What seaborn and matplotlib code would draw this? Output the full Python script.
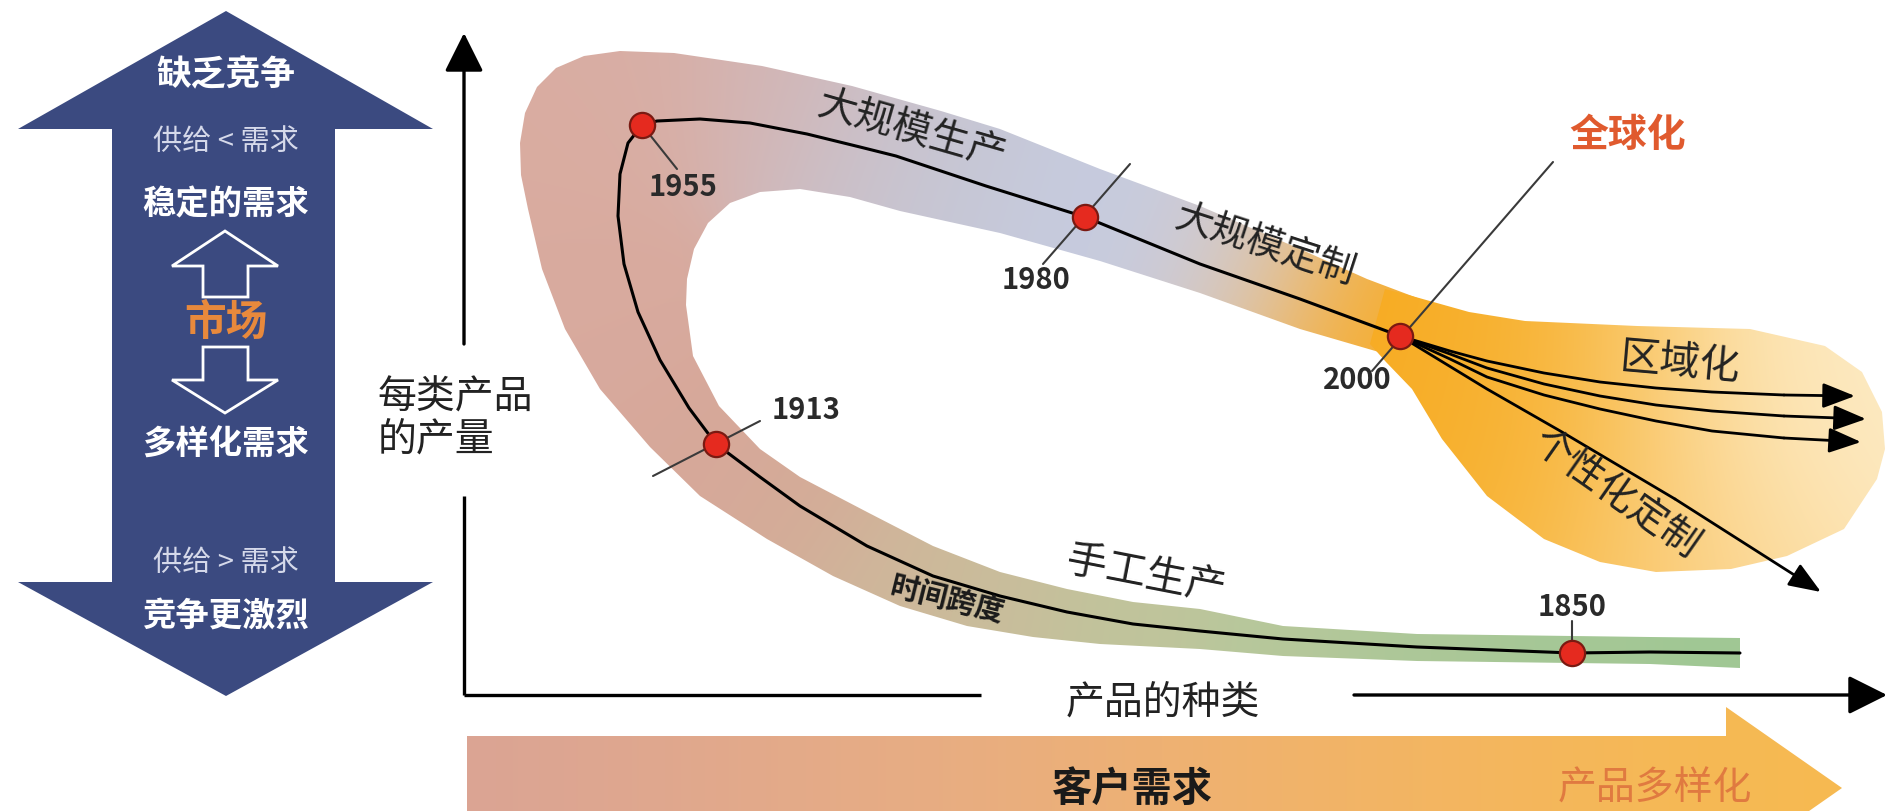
import numpy as np
import matplotlib
matplotlib.use("Agg")
import matplotlib.pyplot as plt
from matplotlib.patches import Polygon
import seaborn as sns

# ---- data: x = 产品的种类 (variety), y = 每类产品的产量 (volume per type) ----
# main trajectory, from 1850 (right, low) round the loop to 2000
path_x = [1276, 1186, 1108, 953, 819, 736, 669, 603, 536, 469, 403, 336, 296, 252,
          225, 196, 174, 160, 154, 156, 164, 178, 193, 236, 286, 343, 396, 432,
          522, 621, 736, 836, 936]
path_y = [42, 43, 42, 48, 56, 64, 71, 83, 99, 119, 149, 189, 218, 251,
          287, 335, 383, 431, 479, 521, 552, 570, 574, 576, 572, 561, 548, 539,
          509, 478, 431, 396, 359]

years = ["1850", "1913", "1955", "1980", "2000"]
year_x = [1108, 252, 178, 621, 936]
year_y = [42, 251, 570, 478, 359]

# branches after 2000
regional_x = [[936, 986, 1023, 1080, 1136, 1192, 1248, 1320, 1391],
              [936, 986, 1023, 1080, 1136, 1192, 1248, 1320, 1402],
              [936, 986, 1023, 1080, 1136, 1192, 1248, 1320, 1397]]
regional_y = [[359, 344, 334, 322, 313, 307, 303, 300, 299],
              [359, 341, 327, 311, 299, 290, 284, 279, 276],
              [359, 336, 318, 300, 286, 274, 264, 257, 253]]
personal_x = [936, 1023, 1098, 1211, 1357]
personal_y = [359, 306, 263, 196, 103]

# swoosh band outline: outer edge then inner edge
band_outer_x = [1276, 1186, 953, 819, 736, 636, 569, 503, 436, 369, 303, 236, 186, 136,
                101, 78, 64, 57, 56, 61, 73, 92, 120, 156, 210, 298, 388, 477, 536, 636,
                736, 836, 903, 956]
band_outer_y = [27, 31, 34, 39, 46, 51, 58, 69, 89, 119, 156, 199, 248, 306,
                366, 426, 486, 520, 552, 582, 608, 627, 639, 644, 642, 629, 609, 584, 566,
                526, 489, 446, 416, 396]
band_inner_x = [956, 836, 736, 636, 536, 436, 386, 336, 296, 266, 244, 230, 223, 222,
                229, 255, 296, 336, 403, 469, 536, 603, 669, 736, 819, 953, 1186, 1276]
band_inner_y = [331, 366, 402, 434, 462, 484, 498, 506, 503, 492, 472, 446, 416, 390,
                339, 289, 246, 218, 183, 149, 123, 106, 93, 86, 69, 61, 58, 57]

# the fan of options after globalisation
blob_x = [921, 948, 1005, 1061, 1173, 1286, 1361, 1398, 1418, 1421, 1413, 1380, 1323,
          1267, 1192, 1136, 1080, 1023, 978, 948, 922, 906]
blob_y = [406, 399, 383, 374, 369, 366, 349, 323, 283, 246, 216, 166, 139,
          126, 123, 133, 156, 199, 256, 306, 333, 351]

# colour anchors (style) for the gradients
band_anchor_xy = [(1276, 42), (1108, 42), (953, 48), (819, 56), (669, 76), (536, 101),
                  (436, 126), (336, 196), (252, 251), (146, 396), (126, 536), (186, 596),
                  (296, 586), (396, 546), (486, 516), (621, 478), (736, 441), (806, 411),
                  (876, 381), (936, 359)]
band_anchor_rgb = [(160, 200, 148), (165, 200, 150), (172, 200, 152), (182, 200, 155),
                   (192, 196, 156), (200, 190, 155), (207, 183, 155), (212, 172, 152),
                   (215, 168, 154), (216, 170, 158), (218, 172, 160), (216, 174, 165),
                   (210, 182, 182), (203, 192, 200), (198, 200, 215), (198, 203, 222),
                   (203, 204, 220), (225, 196, 165), (243, 178, 75), (247, 172, 35)]
blob_anchor_xy = [(936, 359), (986, 296), (1056, 216), (1056, 336), (1186, 316), (1186, 166),
                  (1316, 296), (1316, 176), (1406, 276), (1386, 336)]
blob_anchor_rgb = [(247, 170, 30), (247, 172, 35), (248, 180, 55), (248, 182, 60),
                   (250, 205, 120), (250, 200, 110), (252, 225, 170), (252, 222, 165),
                   (253, 238, 205), (253, 236, 200)]
demand_anchor_xy = [(0, -93), (400, -93), (800, -93), (1100, -93), (1300, -93)]
demand_anchor_rgb = [(217, 163, 150), (230, 172, 135), (240, 178, 112), (245, 182, 92),
                     (247, 188, 75)]


def gradient_fill(ax, px, py, anchor_xy, anchor_rgb, sigma, zorder, step=3):
    xs = np.arange(min(px) - 6, max(px) + 6, step, dtype=float)
    ys = np.arange(min(py) - 6, max(py) + 6, step, dtype=float)
    gx, gy = np.meshgrid(xs, ys)
    a = np.asarray(anchor_xy, float)
    d2 = (gx[..., None] - a[:, 0]) ** 2 + (gy[..., None] - a[:, 1]) ** 2
    logw = -d2 / (2 * sigma ** 2)
    logw -= logw.max(axis=-1, keepdims=True)
    w = np.exp(logw)
    w /= w.sum(axis=-1, keepdims=True)
    img = w @ (np.asarray(anchor_rgb, float) / 255.0)
    im = ax.imshow(img, extent=[xs[0], xs[-1], ys[0], ys[-1]], origin="lower",
                   interpolation="bilinear", aspect="auto", zorder=zorder)
    clip = Polygon(np.column_stack([px, py]), closed=True, fc="none", ec="none")
    ax.add_patch(clip)
    im.set_clip_path(clip)


sns.set_theme(style="white")
plt.rcParams["font.family"] = ["Noto Sans CJK SC", "DejaVu Sans"]

fig = plt.figure(figsize=(18.88, 8.12), dpi=100)
ax = fig.add_axes([0, 0, 1, 1])
ax.set_axis_off()

# left: market double arrow
navy = "#3b4a80"
ax.add_patch(Polygon([(-238, 684), (-31, 566), (-129, 566), (-129, 113), (-31, 113),
                      (-238, -1), (-446, 113), (-352, 113), (-352, 566), (-446, 566)],
                     closed=True, fc=navy, ec="none", zorder=2))
ax.add_patch(Polygon([(-239, 464), (-186, 429), (-216, 429), (-216, 398), (-261, 398),
                      (-261, 429), (-292, 429)], closed=True, fill=False, ec="white",
                     lw=2, zorder=3))
ax.add_patch(Polygon([(-239, 282), (-186, 315), (-216, 315), (-216, 348), (-261, 348),
                      (-261, 315), (-292, 315)], closed=True, fill=False, ec="white",
                     lw=2, zorder=3))
left_txt = [("缺乏竞争", 621, 25, "bold", "white"),
            ("供给 < 需求", 554, 21, "normal", "#d5d9ea"),
            ("稳定的需求", 491, 24, "bold", "white"),
            ("市场", 373, 30, "bold", "#e8893c"),
            ("多样化需求", 251, 24, "bold", "white"),
            ("供给 > 需求", 133, 21, "normal", "#d5d9ea"),
            ("竞争更激烈", 80, 24, "bold", "white")]
for s, y, fs, fw, c in left_txt:
    ax.text(-238, y, s, ha="center", va="center", fontsize=fs, fontweight=fw,
            color=c, zorder=4)

# bottom: customer demand arrow
demand = [(3, -41), (1262, -41), (1262, -12), (1378, -93), (1262, -174),
          (1262, -145), (3, -145)]
dx, dy = zip(*demand)
gradient_fill(ax, dx, dy, demand_anchor_xy, demand_anchor_rgb, 220, zorder=1, step=6)
ax.text(668, -93, "客户需求", ha="center", va="center", fontsize=29,
        fontweight="bold", color="#1a1a1a", zorder=4)
ax.text(1191, -93, "产品多样化", ha="center", va="center", fontsize=28,
        color="#e07a40", zorder=4)

# the swoosh and the fan
gradient_fill(ax, band_outer_x + band_inner_x, band_outer_y + band_inner_y,
              band_anchor_xy, band_anchor_rgb, 60, zorder=1)
gradient_fill(ax, blob_x, blob_y, blob_anchor_xy, blob_anchor_rgb, 90, zorder=1.5)

# axes with arrows
head = dict(arrowstyle="-|>,head_length=0.8,head_width=0.4", mutation_scale=30,
            color="black", lw=2.4, shrinkA=0, shrinkB=0)
ax.annotate("", xy=(0, 662), xytext=(0, 351), arrowprops=head, zorder=3)
ax.plot([0, 0], [0, 199], color="black", lw=2.4, solid_capstyle="butt", zorder=3)
ax.plot([0, 517], [0, 0], color="black", lw=2.4, solid_capstyle="butt", zorder=3)
ax.annotate("", xy=(1423, 0), xytext=(890, 0), arrowprops=head, zorder=3)
ax.text(-86, 298, "每类产品", ha="left", va="center", fontsize=28, color="#222222")
ax.text(-86, 256, "的产量", ha="left", va="center", fontsize=28, color="#222222")
ax.text(699, -7, "产品的种类", ha="center", va="center", fontsize=28, color="#222222")

# year tick lines and labels
tick_x0 = [1108, 189, 178, 579, 908]
tick_y0 = [51, 219, 570, 431, 324]
tick_x1 = [1108, 296, 213, 666, 1089]
tick_y1 = [74, 274, 526, 531, 533]
for i in range(len(years)):
    ax.plot([tick_x0[i], tick_x1[i]], [tick_y0[i], tick_y1[i]], color="#3a3a3a",
            lw=1.5, zorder=4)
lab_x = [1108, 342, 219, 572, 893]
lab_y = [89, 286, 509, 416, 316]
for s, x, y in zip(years, lab_x, lab_y):
    ax.text(x, y, s, ha="center", va="center", fontsize=21, fontweight="bold",
            color="#2a2a2a", zorder=6)

# trajectory, branches, milestones
sns.lineplot(x=path_x, y=path_y, sort=False, estimator=None, color="black",
             linewidth=2.2, ax=ax, zorder=5)
branch_head = dict(arrowstyle="-|>,head_length=0.9,head_width=0.35", mutation_scale=22,
                   color="black", lw=2.0, shrinkA=0, shrinkB=0)
for bx, by in zip(regional_x, regional_y):
    sns.lineplot(x=bx[:-1], y=by[:-1], sort=False, estimator=None, color="black",
                 linewidth=2.0, ax=ax, zorder=5)
    ax.annotate("", xy=(bx[-1], by[-1]), xytext=(bx[-2], by[-2]),
                arrowprops=branch_head, zorder=5)
sns.lineplot(x=personal_x[:-1], y=personal_y[:-1], sort=False, estimator=None,
             color="black", linewidth=2.0, ax=ax, zorder=5)
ax.annotate("", xy=(personal_x[-1], personal_y[-1]),
            xytext=(personal_x[-2], personal_y[-2]), arrowprops=branch_head, zorder=5)
sns.scatterplot(x=year_x, y=year_y, s=330, color="#e52a1f", edgecolor="#7a1a12",
                linewidth=1.6, ax=ax, zorder=7, legend=False)

# stage names along the curve
stages = [("大规模生产", 448, 566, -16, 28, "normal", "#222222"),
          ("大规模定制", 801, 451, -18, 27, "normal", "#222222"),
          ("全球化", 1164, 560, 0, 28, "bold", "#e05a2e"),
          ("区域化", 1216, 333, -5, 29, "normal", "#222222"),
          ("个性化定制", 1152, 201, -35, 28, "normal", "#222222"),
          ("手工生产", 682, 121, -11, 29, "normal", "#222222"),
          ("时间跨度", 483, 96, -14, 21, "bold", "#1a1a1a")]
for s, x, y, rot, fs, fw, c in stages:
    ax.text(x, y, s, ha="center", va="center", rotation=rot, rotation_mode="anchor",
            fontsize=fs, fontweight=fw, color=c, zorder=6)

ax.set_xlim(-464, 1424)
ax.set_ylim(-116, 696)
fig.savefig("out.png", dpi=100)
